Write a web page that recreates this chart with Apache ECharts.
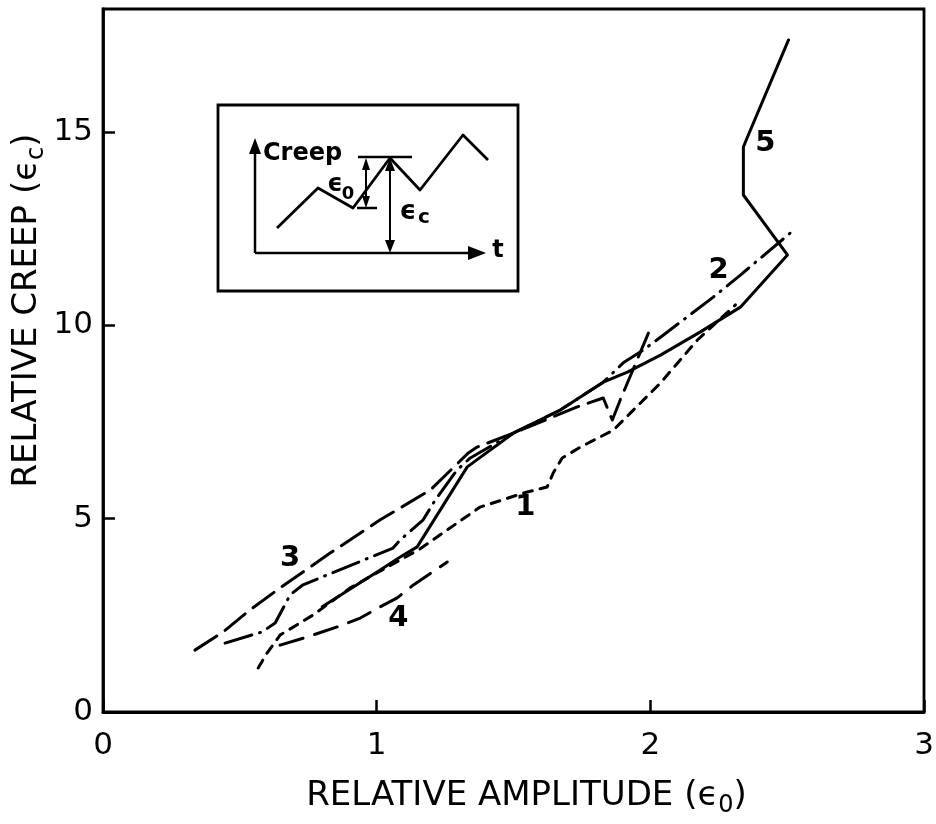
<!DOCTYPE html>
<html>
<head>
<meta charset="utf-8">
<script src="https://cdn.jsdelivr.net/npm/echarts@6/dist/echarts.min.js"></script>
<style>
  html, body { margin: 0; padding: 0; background: #fff; }
  #chart { width: 936px; height: 824px; }
</style>
</head>
<body>
<div id="chart"></div>
<script>
// Relative creep (eps_c) against relative amplitude (eps_0) for five records.
const amp1   = [0.567, 0.600, 0.647, 0.768, 0.903, 1.159, 1.258, 1.378, 1.536, 1.623, 1.645, 1.678, 1.744, 1.865, 1.927, 2.037, 2.172, 2.311];
const creep1 = [1.14, 1.53, 1.99, 2.51, 3.21, 4.22, 4.71, 5.30, 5.66, 5.82, 6.18, 6.57, 6.85, 7.29, 7.73, 8.51, 9.62, 10.53];

const amp2   = [0.446, 0.581, 0.629, 0.684, 0.731, 1.060, 1.086, 1.170, 1.214, 1.294, 1.342, 1.499, 1.671, 1.828, 1.901, 1.974, 2.048, 2.230, 2.329, 2.512];
const creep2 = [1.78, 2.07, 2.30, 3.03, 3.29, 4.24, 4.45, 4.97, 5.48, 6.26, 6.57, 7.21, 7.81, 8.53, 9.03, 9.36, 9.75, 10.73, 11.30, 12.39];

const amp3   = [0.336, 0.439, 0.537, 0.647, 0.830, 1.013, 1.196, 1.335, 1.367, 1.499, 1.733, 1.828, 1.861, 1.890, 1.993];
const creep3 = [1.60, 2.07, 2.64, 3.21, 4.11, 4.97, 5.74, 6.70, 6.85, 7.21, 7.89, 8.12, 7.55, 8.07, 9.80];

const amp4   = [0.647, 0.746, 0.856, 0.940, 1.013, 1.075, 1.133, 1.258];
const creep4 = [1.73, 1.94, 2.20, 2.43, 2.72, 2.95, 3.28, 3.88];

const amp5   = [0.801, 1.013, 1.086, 1.148, 1.331, 1.499, 1.671, 1.828, 1.916, 2.037, 2.183, 2.329, 2.501, 2.340, 2.340, 2.355, 2.505];
const creep5 = [2.72, 3.67, 4.01, 4.27, 6.34, 7.21, 7.81, 8.53, 8.79, 9.23, 9.83, 10.47, 11.82, 13.37, 14.61, 14.87, 17.38];

const xTickValues = [0, 1, 2, 3];
const yTickValues = [0, 5, 10, 15];

const FONT = 'DejaVu Sans';
const INK = '#000';

function pairs(xs, ys) {
  return xs.map((x, i) => [x, ys[i]]);
}

function tag(text, coord) {
  return {
    symbol: 'circle',
    symbolSize: 1,
    itemStyle: { color: 'rgba(0,0,0,0)' },
    silent: true,
    label: {
      show: true, position: 'inside', formatter: text,
      color: INK, fontFamily: FONT, fontSize: 29, fontWeight: 'bold'
    },
    data: [{ coord: coord, value: text }]
  };
}

function curve(name, xs, ys, dash, tagText, tagCoord) {
  return {
    name: name,
    type: 'line',
    data: pairs(xs, ys),
    showSymbol: false,
    symbol: 'none',
    smooth: false,
    clip: false,
    lineStyle: { color: INK, width: 3, type: dash, cap: 'round', join: 'round' },
    markPoint: tag(tagText, tagCoord),
    z: 3
  };
}

// Small arrowhead pointing along (dx, dy) with its tip at (x, y).
function arrowHead(x, y, dx, dy, len, half) {
  const n = Math.hypot(dx, dy);
  const ux = dx / n, uy = dy / n;
  const bx = x - ux * len, by = y - uy * len;
  return {
    type: 'polygon',
    shape: { points: [[x, y], [bx - uy * half, by + ux * half], [bx + uy * half, by - ux * half]] },
    style: { fill: INK }
  };
}

function seg(x1, y1, x2, y2, w) {
  return { type: 'line', shape: { x1, y1, x2, y2 }, style: { stroke: INK, lineWidth: w || 2.5 } };
}

function txt(text, x, y, size, align) {
  return {
    type: 'text',
    x: x, y: y,
    style: {
      text: text, fill: INK, font: 'bold ' + size + 'px "' + FONT + '"',
      textAlign: align || 'center', textVerticalAlign: 'middle'
    }
  };
}

// Sketch of creep against time, defining eps_0 and eps_c.
const inset = {
  type: 'group',
  x: 218, y: 105,
  children: [
    { type: 'rect', shape: { x: 0, y: 0, width: 300, height: 186 }, style: { fill: '#fff', stroke: INK, lineWidth: 2.8 } },
    seg(37, 148, 256, 148),
    arrowHead(268, 148, 1, 0, 18, 7),
    seg(37, 148, 37, 45),
    arrowHead(37, 33, 0, -1, 16, 6),
    txt('t', 280, 146, 24),
    txt('Creep', 45, 49, 24, 'left'),
    {
      type: 'polyline',
      shape: { points: [[59, 123], [100, 83], [135, 103], [172, 53], [202, 85], [245, 30], [270, 55]] },
      style: { stroke: INK, lineWidth: 2.8, fill: null, lineJoin: 'round' }
    },
    seg(140, 52, 194, 52),
    seg(139, 103, 159, 103),
    seg(148, 62, 148, 94, 2),
    arrowHead(148, 53, 0, -1, 12, 4),
    arrowHead(148, 103, 0, 1, 12, 4),
    seg(172, 64, 172, 137, 2),
    arrowHead(172, 53, 0, -1, 13, 5),
    arrowHead(172, 148, 0, 1, 13, 5),
    txt('\u03f5', 117, 80, 24),
    txt('0', 130, 89, 18),
    txt('\u03f5', 190, 107, 26),
    txt('c', 206, 113, 20)
  ]
};

const chart = echarts.init(document.getElementById('chart'), null, { renderer: 'canvas' });

chart.setOption({
  animation: false,
  backgroundColor: '#fff',
  textStyle: { fontFamily: FONT },
  grid: {
    left: 103, right: 12, top: 9, bottom: 112,
    outerBoundsMode: 'none',
    containLabel: false,
    show: true, borderColor: INK, borderWidth: 2.8, backgroundColor: 'transparent'
  },
  xAxis: {
    type: 'value',
    min: xTickValues[0], max: xTickValues[xTickValues.length - 1], interval: 1,
    name: '{n|RELATIVE AMPLITUDE (\u03f5}{s|0}{n|)}',
    nameLocation: 'middle', nameGap: 62, nameMoveOverlap: false,
    nameTextStyle: {
      padding: [0, 0, 0, 26],
      rich: {
        n: { fontFamily: FONT, fontSize: 34, color: INK, lineHeight: 44, verticalAlign: 'middle' },
        s: { fontFamily: FONT, fontSize: 24, color: INK, lineHeight: 24, verticalAlign: 'bottom' }
      }
    },
    axisLine: { show: true, onZero: false, lineStyle: { color: INK, width: 2.8 } },
    axisTick: { show: true, inside: true, length: 12, lineStyle: { color: INK, width: 2.5 } },
    axisLabel: { color: INK, fontFamily: FONT, fontSize: 31, margin: 18 },
    splitLine: { show: false }
  },
  yAxis: {
    type: 'value',
    min: yTickValues[0], max: 18.18, interval: 5,
    name: '{n|RELATIVE CREEP (\u03f5}{s|c}{n|)}',
    nameLocation: 'middle', nameGap: 54, nameRotate: 90, nameMoveOverlap: false,
    nameTextStyle: {
      padding: [0, 0, 0, 100],
      rich: {
        n: { fontFamily: FONT, fontSize: 34, color: INK, lineHeight: 44, verticalAlign: 'middle' },
        s: { fontFamily: FONT, fontSize: 24, color: INK, lineHeight: 24, verticalAlign: 'bottom' }
      }
    },
    axisLine: { show: true, onZero: false, lineStyle: { color: INK, width: 2.8 } },
    axisTick: { show: true, inside: true, length: 12, lineStyle: { color: INK, width: 2.5 } },
    axisLabel: {
      color: INK, fontFamily: FONT, fontSize: 31, margin: 10, showMaxLabel: false,
      formatter: v => (yTickValues.indexOf(v) >= 0 ? String(v) : '')
    },
    splitLine: { show: false }
  },
  series: [
    curve('1', amp1, creep1, [9, 8], '1', [1.543, 5.28]),
    curve('2', amp2, creep2, [28, 8, 1, 8], '2', [2.249, 11.43]),
    curve('3', amp3, creep3, [26, 10], '3', [0.684, 3.98]),
    curve('4', amp4, creep4, [24, 12], '4', [1.079, 2.43]),
    curve('5', amp5, creep5, 'solid', '5', [2.420, 14.71])
  ],
  graphic: [inset]
});
</script>
</body>
</html>
